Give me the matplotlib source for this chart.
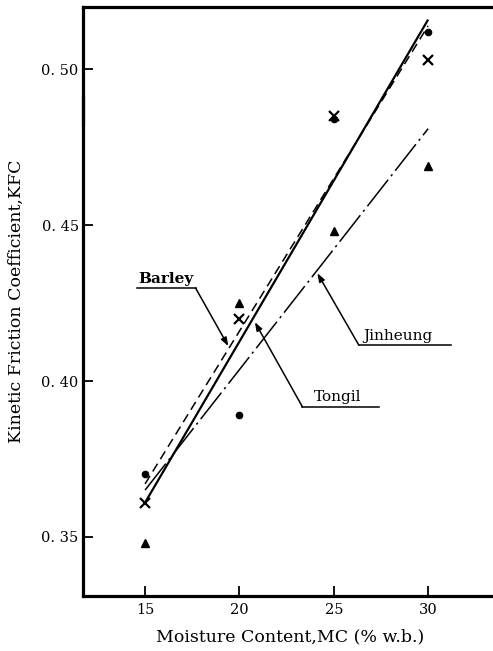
import matplotlib
matplotlib.use("Agg")
import matplotlib.pyplot as plt

# ---- data ----
mc = [15, 20, 25, 30]
barley = [0.370, 0.389, 0.484, 0.512]
tongil = [0.361, 0.420, 0.485, 0.503]
jinheung = [0.348, 0.425, 0.448, 0.469]

fit_x = [15, 30]
barley_fit = [0.367, 0.514]
tongil_fit = [0.361, 0.516]
jinheung_fit = [0.365, 0.481]

xticks = [15, 20, 25, 30]
yticks = [0.35, 0.40, 0.45, 0.50]
ytick_labels = ["0. 35", "0. 40", "0. 45", "0. 50"]

plt.rcParams['font.family'] = ['DejaVu Serif']

fig = plt.figure(figsize=(4.93, 6.51), dpi=100)
ax = fig.add_axes([0.168, 0.0845, 0.832 + 0.01, 0.9045])

# regression lines
ax.plot(fit_x, tongil_fit, color='black', lw=1.6, solid_capstyle='butt')
ax.plot(fit_x, barley_fit, color='black', lw=1.1, dashes=(6, 3.5))
ax.plot(fit_x, jinheung_fit, color='black', lw=1.1, dashes=(22, 3, 1.5, 3))

# data points
ax.plot(mc, barley, 'o', color='black', ms=4.5, ls='none')
ax.plot(mc, tongil, 'x', color='black', ms=7, mew=1.6, ls='none')
ax.plot(mc, jinheung, '^', color='black', ms=5.5, ls='none')

ax.set_xlim(11.7, 33.7)
ax.set_ylim(0.331, 0.520)

ax.set_xticks(xticks)
ax.set_xticklabels([str(v) for v in xticks])
ax.set_yticks(yticks)
ax.set_yticklabels(ytick_labels)
ax.tick_params(direction='in', length=7, width=1.3, labelsize=10.5, pad=3)
ax.tick_params(axis='x', pad=5)

for s in ['top', 'bottom']:
    ax.spines[s].set_linewidth(2.3)
ax.spines['right'].set_visible(False)
ax.spines['left'].set_visible(False)

# broken left spine
yt = ax.get_yaxis_transform()
ax.plot([0, 0], [0.331, 0.4913], transform=yt, color='black', lw=2.3, clip_on=False)
ax.plot([0, 0], [0.4824, 0.520], transform=yt, color='black', lw=2.3, clip_on=False)

# annotations
def label(text, tx, ty, ux0, ux1, uy, start_x, target, bold=False):
    ax.text(tx, ty, text, ha='center', va='bottom', fontsize=11,
            fontweight='bold' if bold else 'normal')
    ax.plot([ux0, ux1], [uy, uy], color='black', lw=1.1)
    ax.annotate('', xy=target, xytext=(start_x, uy),
                arrowprops=dict(arrowstyle='-|>,head_length=0.5,head_width=0.18',
                                color='black', lw=1.1, shrinkA=0, shrinkB=0))

label('Barley', 16.1, 0.4305, 14.58, 17.68, 0.4298, 17.68, (19.41, 0.4112), bold=True)
label('Tongil', 25.2, 0.3925, 23.34, 27.38, 0.3917, 23.34, (20.82, 0.4189))
label('Jinheung', 28.4, 0.4122, 26.33, 31.21, 0.4115, 26.33, (24.13, 0.4346))

ax.set_xlabel('Moisture Content,MC (% w.b.)', fontsize=12.5, labelpad=8)
ax.set_ylabel('Kinetic Friction Coefficient,KFC', fontsize=12.5, labelpad=6)
ax.yaxis.set_label_coords(-0.14, 0.50)

fig.savefig('out.png', dpi=100)
